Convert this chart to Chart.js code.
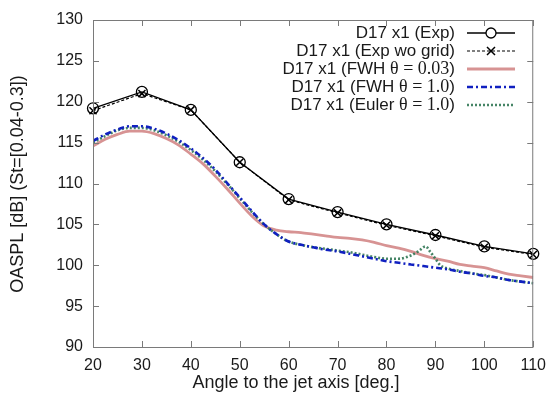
<!DOCTYPE html>
<html><head><meta charset="utf-8">
<script src="https://cdn.jsdelivr.net/npm/chart.js@4"></script>
<style>html,body{margin:0;padding:0;background:#fff}</style>
</head><body>
<canvas id="c" width="555" height="401" style="display:block;width:555px;height:401px"></canvas>
<script>
// ---- data ----
const expAngles = [20, 30, 40, 50, 60, 70, 80, 90, 100, 110];
const expValues = [119.2, 121.2, 119.0, 112.6, 108.1, 106.5, 105.0, 103.7, 102.3, 101.4];
const expWoGridValues = [118.9, 121.0, 119.0, 112.6, 108.0, 106.4, 104.9, 103.6, 102.2, 101.3];

const simAngles = [20, 22.5, 25, 27.5, 30, 32.5, 35, 37.5, 40, 42.5, 45, 47.5, 50, 52.5, 55, 57.5, 60, 62.5, 65, 67.5, 70, 72.5, 75, 77.5, 80, 82.5, 85, 87.5, 90, 92.5, 95, 97.5, 100, 102.5, 105, 107.5, 110];
const fwh003Values = [114.6, 115.4, 116.0, 116.4, 116.4, 116.1, 115.5, 114.7, 113.6, 112.4, 110.9, 109.3, 107.6, 106.0, 104.8, 104.3, 104.1, 104.0, 103.8, 103.6, 103.4, 103.3, 103.1, 102.8, 102.4, 102.1, 101.7, 101.2, 100.8, 100.5, 100.1, 99.9, 99.7, 99.3, 98.9, 98.7, 98.5];
const fwh10Values = [115.2, 116.0, 116.6, 117.0, 117.0, 116.7, 116.1, 115.3, 114.3, 113.1, 111.7, 110.0, 108.3, 106.6, 105.0, 103.8, 102.9, 102.5, 102.2, 101.9, 101.7, 101.4, 101.1, 100.8, 100.5, 100.3, 100.1, 99.9, 99.7, 99.5, 99.2, 99.0, 98.7, 98.5, 98.2, 98.0, 97.8];

const eulerAngles = [20, 22.5, 25, 27.5, 30, 32.5, 35, 37.5, 40, 42.5, 45, 47.5, 50, 52.5, 55, 57.5, 60, 62.5, 65, 67.5, 70, 72.5, 75, 77.5, 80, 82.5, 85, 86.5, 88, 89, 90, 91, 92.5, 95, 97.5, 100, 102.5, 105, 107.5, 110];
const euler10Values = [115.0, 115.8, 116.5, 116.8, 116.8, 116.5, 115.9, 115.1, 114.1, 112.9, 111.5, 109.9, 108.2, 106.5, 105.0, 103.8, 102.9, 102.5, 102.2, 102.0, 101.8, 101.6, 101.3, 101.0, 100.8, 100.8, 101.2, 101.7, 102.3, 101.6, 100.8, 100.0, 99.6, 99.3, 99.0, 98.8, 98.5, 98.2, 98.0, 97.8];

const xTicks = [20, 30, 40, 50, 60, 70, 80, 90, 100, 110];
const yTicks = [90, 95, 100, 105, 110, 115, 120, 125, 130];
const xTitle = 'Angle to the jet axis [deg.]';
const yTitle = 'OASPL [dB] (St=[0.04-0.3])';
const legendParts = [
  [['D17 x1 (Exp)', 's']],
  [['D17 x1 (Exp wo grid)', 's']],
  [['D17 x1 (FWH ', 's'], ['\u03b8 = 0.03', 'r'], [')', 's']],
  [['D17 x1 (FWH ', 's'], ['\u03b8 = 1.0', 'r'], [')', 's']],
  [['D17 x1 (Euler ', 's'], ['\u03b8 = 1.0', 'r'], [')', 's']]
];

const pts = (xs, ys) => xs.map((x, i) => ({x, y: ys[i]}));
const SANS = '"Liberation Sans", Arial, sans-serif';
const SERIF = '"Liberation Serif", "Times New Roman", serif';

const datasets = [
  {label: 'D17 x1 (Exp)', data: pts(expAngles, expValues), borderColor: '#000', borderWidth: 1.3,
   pointStyle: 'circle', pointRadius: 5.5, pointBorderWidth: 1.3, pointBackgroundColor: 'rgba(0,0,0,0)', pointBorderColor: '#000', tension: 0, clip: 10, order: 1},
  {label: 'D17 x1 (Exp wo grid)', data: pts(expAngles, expWoGridValues), borderColor: '#000', borderWidth: 1.2, borderDash: [3, 2],
   pointStyle: 'crossRot', pointRadius: 5, pointBorderWidth: 1.5, pointBorderColor: '#000', tension: 0, clip: 10, order: 0},
  {label: 'D17 x1 (FWH θ=0.03)', data: pts(simAngles, fwh003Values), borderColor: 'rgba(205,120,120,0.8)', borderWidth: 2.8,
   pointRadius: 0, cubicInterpolationMode: 'monotone', order: 4},
  {label: 'D17 x1 (FWH θ=1.0)', data: pts(simAngles, fwh10Values), borderColor: '#1020c0', borderWidth: 2.6, borderDash: [6, 3, 2, 3],
   pointRadius: 0, cubicInterpolationMode: 'monotone', order: 2},
  {label: 'D17 x1 (Euler θ=1.0)', data: pts(eulerAngles, euler10Values), borderColor: 'rgba(50,120,85,0.9)', borderWidth: 2.6, borderDash: [2, 2],
   pointRadius: 0, cubicInterpolationMode: 'monotone', order: 3}
];

const framePlugin = {
  id: 'frame',
  afterDraw(chart) {
    const {ctx, chartArea: a, scales: {x, y}} = chart;
    ctx.save();
    ctx.strokeStyle = '#7a7a7a';
    ctx.lineWidth = 1;
    ctx.strokeRect(a.left + 0.5, a.top + 0.5, a.right - a.left - 1, a.bottom - a.top);
    const L = 6;
    ctx.beginPath();
    xTicks.forEach(v => {
      const px = Math.round(x.getPixelForValue(v)) + 0.5;
      ctx.moveTo(px, a.bottom); ctx.lineTo(px, a.bottom - L);
      ctx.moveTo(px, a.top); ctx.lineTo(px, a.top + L);
    });
    yTicks.forEach(v => {
      const py = Math.round(y.getPixelForValue(v)) + 0.5;
      ctx.moveTo(a.left, py); ctx.lineTo(a.left + L, py);
      ctx.moveTo(a.right, py); ctx.lineTo(a.right - L, py);
    });
    ctx.stroke();

    // axis titles
    ctx.fillStyle = '#1a1a1a';
    ctx.font = '18px ' + SANS;
    ctx.textAlign = 'center';
    ctx.textBaseline = 'middle';
    ctx.fillText(xTitle, 296, 383);
    ctx.save();
    ctx.translate(18, 184);
    ctx.rotate(-Math.PI / 2);
    ctx.fillText(yTitle, 0, 0);
    ctx.restore();

    // legend
    const textRight = 455, sx0 = 467, sx1 = 515, rowY0 = 33, rowH = 18;
    legendParts.forEach((parts, i) => {
      const cy = rowY0 + i * rowH;
      let xr = textRight;
      ctx.textAlign = 'right';
      ctx.textBaseline = 'middle';
      for (let k = parts.length - 1; k >= 0; k--) {
        const [t, f] = parts[k];
        ctx.font = f === 'r' ? '18px ' + SERIF : '17px ' + SANS;
        ctx.fillText(t, xr, cy);
        xr -= ctx.measureText(t).width;
      }
      const ds = datasets[i];
      ctx.save();
      ctx.strokeStyle = ds.borderColor;
      ctx.lineWidth = ds.borderWidth;
      ctx.setLineDash(ds.borderDash || []);
      ctx.beginPath(); ctx.moveTo(sx0, cy); ctx.lineTo(sx1, cy); ctx.stroke();
      ctx.setLineDash([]);
      const mx = (sx0 + sx1) / 2;
      if (ds.pointStyle === 'circle') {
        ctx.fillStyle = '#fff';
        ctx.lineWidth = 1.3;
        ctx.beginPath(); ctx.arc(mx, cy, 5, 0, Math.PI * 2); ctx.fill(); ctx.stroke();
      } else if (ds.pointStyle === 'crossRot') {
        ctx.lineWidth = 1.5;
        ctx.beginPath();
        ctx.moveTo(mx - 4, cy - 4); ctx.lineTo(mx + 4, cy + 4);
        ctx.moveTo(mx - 4, cy + 4); ctx.lineTo(mx + 4, cy - 4);
        ctx.stroke();
      }
      ctx.restore();
    });
    ctx.restore();
  }
};

new Chart(document.getElementById('c'), {
  type: 'line',
  data: {datasets},
  options: {
    responsive: false,
    animation: false,
    devicePixelRatio: 1,
    layout: {padding: {top: 20, right: 19, left: 0, bottom: 0}},
    plugins: {legend: {display: false}, tooltip: {enabled: false}},
    scales: {
      x: {
        type: 'linear', min: 20, max: 110,
        afterBuildTicks: s => { s.ticks = xTicks.map(v => ({value: v})); },
        afterFit: s => { s.height = 54; },
        ticks: {font: {family: SANS, size: 16}, color: '#1a1a1a', padding: 9, maxRotation: 0},
        grid: {display: false, drawTicks: false},
        border: {display: false}
      },
      y: {
        type: 'linear', min: 90, max: 130,
        afterBuildTicks: s => { s.ticks = yTicks.map(v => ({value: v})); },
        afterFit: s => { s.width = 93; },
        ticks: {font: {family: SANS, size: 16}, color: '#1a1a1a', padding: 10},
        grid: {display: false, drawTicks: false},
        border: {display: false}
      }
    }
  },
  plugins: [framePlugin]
});
</script>
</body></html>
